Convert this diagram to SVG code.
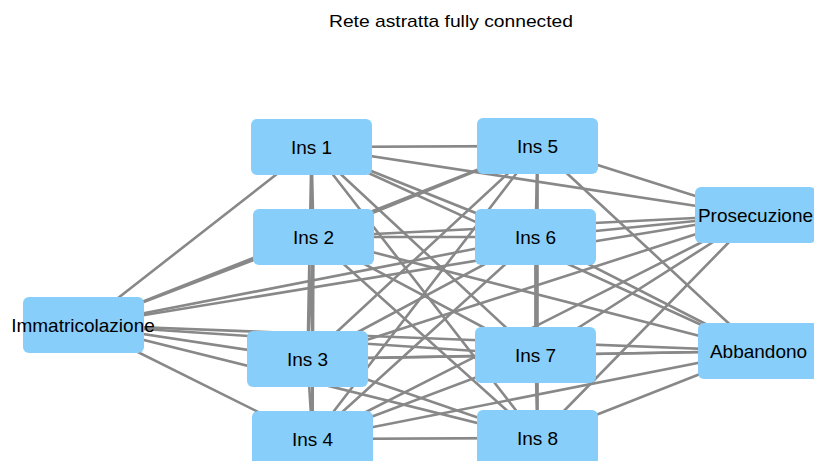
<svg xmlns="http://www.w3.org/2000/svg" width="814" height="461" viewBox="0 0 814 461">
  <style>
    .edge { stroke: #888888; stroke-width: 2.6; stroke-linecap: round; fill: none; }
    .box { fill: #87CEFA; }
    .label { font-family: "Liberation Sans", Arial, sans-serif; font-size: 19px; fill: #000000; text-anchor: middle; }
    .title { font-family: "Liberation Sans", Arial, sans-serif; font-size: 17px; fill: #000000; text-anchor: middle; }
  </style>
  <rect width="814" height="461" fill="#ffffff"/>
  <text class="title" x="451" y="27" textLength="244" lengthAdjust="spacingAndGlyphs">Rete astratta fully connected</text>

  <g id="connectors">
    <!-- Immatricolazione to every Ins node and to the outcomes -->
    <line class="edge" x1="83.5" y1="325" x2="311.5" y2="147"/>
    <line class="edge" x1="83.5" y1="325" x2="313.5" y2="237"/>
    <line class="edge" x1="83.5" y1="325" x2="307.5" y2="359"/>
    <line class="edge" x1="83.5" y1="325" x2="312.5" y2="439"/>
    <line class="edge" x1="83.5" y1="325" x2="537.5" y2="146"/>
    <line class="edge" x1="83.5" y1="325" x2="535.5" y2="237"/>
    <line class="edge" x1="83.5" y1="325" x2="535.5" y2="355"/>
    <line class="edge" x1="83.5" y1="325" x2="537.5" y2="438"/>
    <line class="edge" x1="83.5" y1="325" x2="755.5" y2="215"/>
    <line class="edge" x1="83.5" y1="325" x2="758.5" y2="351"/>
    <!-- Ins 1 -->
    <line class="edge" x1="311.5" y1="147" x2="313.5" y2="237"/>
    <line class="edge" x1="311.5" y1="147" x2="307.5" y2="359"/>
    <line class="edge" x1="311.5" y1="147" x2="312.5" y2="439"/>
    <line class="edge" x1="311.5" y1="147" x2="537.5" y2="146"/>
    <line class="edge" x1="311.5" y1="147" x2="535.5" y2="237"/>
    <line class="edge" x1="311.5" y1="147" x2="535.5" y2="355"/>
    <line class="edge" x1="311.5" y1="147" x2="537.5" y2="438"/>
    <line class="edge" x1="311.5" y1="147" x2="755.5" y2="215"/>
    <line class="edge" x1="311.5" y1="147" x2="758.5" y2="351"/>
    <!-- Ins 2 -->
    <line class="edge" x1="313.5" y1="237" x2="307.5" y2="359"/>
    <line class="edge" x1="313.5" y1="237" x2="312.5" y2="439"/>
    <line class="edge" x1="313.5" y1="237" x2="537.5" y2="146"/>
    <line class="edge" x1="313.5" y1="237" x2="535.5" y2="237"/>
    <line class="edge" x1="313.5" y1="237" x2="535.5" y2="355"/>
    <line class="edge" x1="313.5" y1="237" x2="537.5" y2="438"/>
    <line class="edge" x1="313.5" y1="237" x2="755.5" y2="215"/>
    <line class="edge" x1="313.5" y1="237" x2="758.5" y2="351"/>
    <!-- Ins 3 -->
    <line class="edge" x1="307.5" y1="359" x2="312.5" y2="439"/>
    <line class="edge" x1="307.5" y1="359" x2="537.5" y2="146"/>
    <line class="edge" x1="307.5" y1="359" x2="535.5" y2="237"/>
    <line class="edge" x1="307.5" y1="359" x2="535.5" y2="355"/>
    <line class="edge" x1="307.5" y1="359" x2="537.5" y2="438"/>
    <line class="edge" x1="307.5" y1="359" x2="755.5" y2="215"/>
    <line class="edge" x1="307.5" y1="359" x2="758.5" y2="351"/>
    <!-- Ins 4 -->
    <line class="edge" x1="312.5" y1="439" x2="537.5" y2="146"/>
    <line class="edge" x1="312.5" y1="439" x2="535.5" y2="237"/>
    <line class="edge" x1="312.5" y1="439" x2="535.5" y2="355"/>
    <line class="edge" x1="312.5" y1="439" x2="537.5" y2="438"/>
    <line class="edge" x1="312.5" y1="439" x2="755.5" y2="215"/>
    <line class="edge" x1="312.5" y1="439" x2="758.5" y2="351"/>
    <!-- Ins 5 -->
    <line class="edge" x1="537.5" y1="146" x2="535.5" y2="237"/>
    <line class="edge" x1="537.5" y1="146" x2="535.5" y2="355"/>
    <line class="edge" x1="537.5" y1="146" x2="537.5" y2="438"/>
    <line class="edge" x1="537.5" y1="146" x2="755.5" y2="215"/>
    <line class="edge" x1="537.5" y1="146" x2="758.5" y2="351"/>
    <!-- Ins 6 -->
    <line class="edge" x1="535.5" y1="237" x2="535.5" y2="355"/>
    <line class="edge" x1="535.5" y1="237" x2="537.5" y2="438"/>
    <line class="edge" x1="535.5" y1="237" x2="755.5" y2="215"/>
    <line class="edge" x1="535.5" y1="237" x2="758.5" y2="351"/>
    <!-- Ins 7 -->
    <line class="edge" x1="535.5" y1="355" x2="537.5" y2="438"/>
    <line class="edge" x1="535.5" y1="355" x2="755.5" y2="215"/>
    <line class="edge" x1="535.5" y1="355" x2="758.5" y2="351"/>
    <!-- Ins 8 -->
    <line class="edge" x1="537.5" y1="438" x2="755.5" y2="215"/>
    <line class="edge" x1="537.5" y1="438" x2="758.5" y2="351"/>
  </g>

  <g id="immatricolazione">
    <rect class="box" x="23" y="297" width="121" height="56" rx="6"/>
    <text class="label" x="83" y="332">Immatricolazione</text>
  </g>
  <g id="ins1">
    <rect class="box" x="251" y="119" width="121" height="56" rx="6"/>
    <text class="label" x="311.5" y="154">Ins 1</text>
  </g>
  <g id="ins2">
    <rect class="box" x="253" y="209" width="121" height="56" rx="6"/>
    <text class="label" x="313.5" y="244">Ins 2</text>
  </g>
  <g id="ins3">
    <rect class="box" x="247" y="331" width="121" height="56" rx="6"/>
    <text class="label" x="307.5" y="366">Ins 3</text>
  </g>
  <g id="ins4">
    <rect class="box" x="252" y="411" width="121" height="56" rx="6"/>
    <text class="label" x="312.5" y="446">Ins 4</text>
  </g>
  <g id="ins5">
    <rect class="box" x="477" y="118" width="121" height="56" rx="6"/>
    <text class="label" x="537.5" y="153">Ins 5</text>
  </g>
  <g id="ins6">
    <rect class="box" x="475" y="209" width="121" height="56" rx="6"/>
    <text class="label" x="535.5" y="244">Ins 6</text>
  </g>
  <g id="ins7">
    <rect class="box" x="475" y="327" width="121" height="56" rx="6"/>
    <text class="label" x="535.5" y="362">Ins 7</text>
  </g>
  <g id="ins8">
    <rect class="box" x="477" y="410" width="121" height="56" rx="6"/>
    <text class="label" x="537.5" y="445">Ins 8</text>
  </g>
  <g id="prosecuzione">
    <rect class="box" x="695" y="187" width="121" height="56" rx="6"/>
    <text class="label" x="755.5" y="222">Prosecuzione</text>
  </g>
  <g id="abbandono">
    <rect class="box" x="698" y="323" width="121" height="56" rx="6"/>
    <text class="label" x="758.5" y="358">Abbandono</text>
  </g>
</svg>
